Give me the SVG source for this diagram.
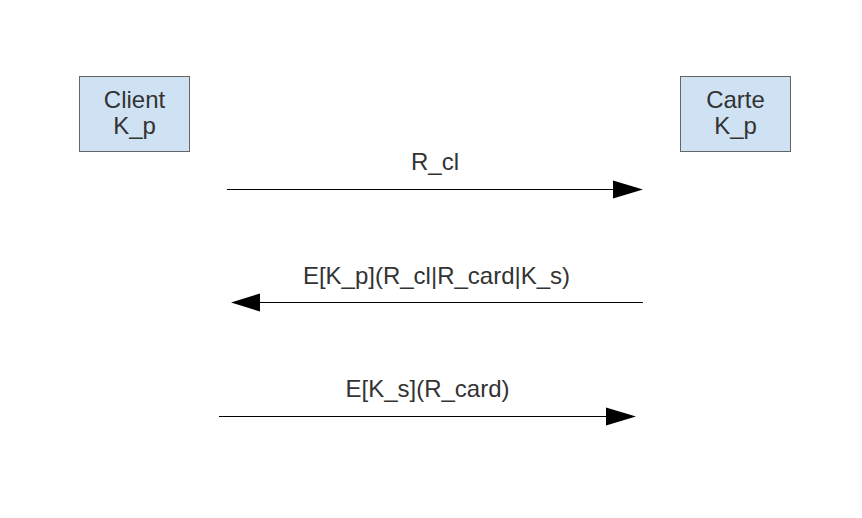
<svg xmlns="http://www.w3.org/2000/svg" width="862" height="518" viewBox="0 0 862 518">
<style>
.node rect{fill:#cfe2f3;stroke:#666666;stroke-width:1}
text{font-family:"Liberation Sans",Arial,sans-serif;font-size:24px;fill:#333333;text-anchor:middle}
.conn line{stroke:#000000;stroke-width:1}
.conn polygon{fill:#000000}
</style>
<rect width="862" height="518" fill="#ffffff"/>
<g id="client" class="node">
<rect x="79.5" y="76.5" width="110" height="75"/>
<text x="134.5" y="108">Client</text>
<text x="134.5" y="134">K_p</text>
</g>
<g id="carte" class="node">
<rect x="680.5" y="76.5" width="110" height="75"/>
<text x="735.5" y="108">Carte</text>
<text x="735.5" y="134">K_p</text>
</g>
<g id="connectors" class="conn">
<line x1="227" y1="189.5" x2="615" y2="189.5"/>
<polygon points="613,180.5 643,189.5 613,198.5"/>
<text x="435" y="170">R_cl</text>
<line x1="643" y1="302.5" x2="258" y2="302.5"/>
<polygon points="260,293.5 231,302.5 260,311.5"/>
<text x="436.5" y="284">E[K_p](R_cl|R_card|K_s)</text>
<line x1="219" y1="416.5" x2="608" y2="416.5"/>
<polygon points="606,407.5 636,416.5 606,425.5"/>
<text x="427.5" y="397">E[K_s](R_card)</text>
</g>
</svg>
